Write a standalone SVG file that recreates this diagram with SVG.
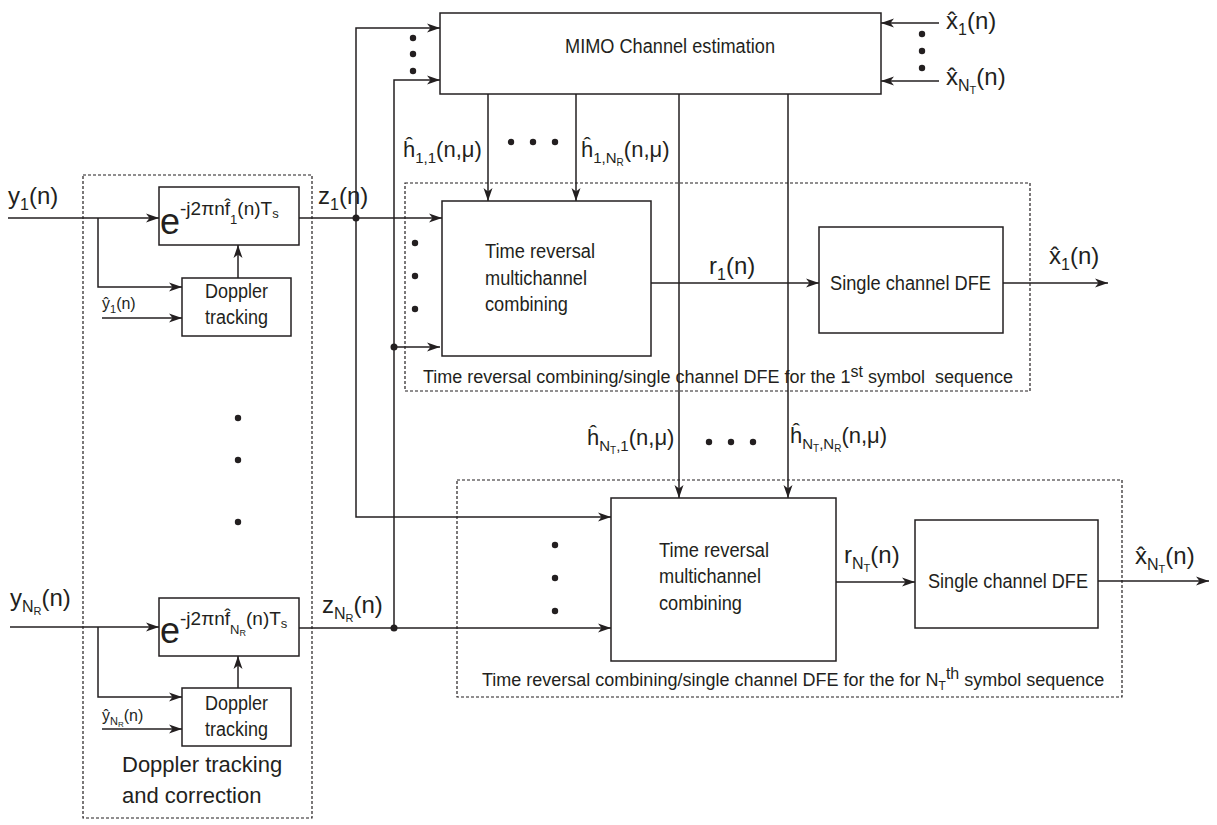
<svg xmlns="http://www.w3.org/2000/svg" width="1217" height="825" viewBox="0 0 1217 825">
<defs>
<marker id="ah" markerUnits="userSpaceOnUse" markerWidth="14" markerHeight="10" refX="13" refY="5" orient="auto">
<path d="M0,0.5 L13,5 L0,9.5 L3.5,5 Z" fill="#231f20"/>
</marker>
<style>
.box{fill:#fff;stroke:#231f20;stroke-width:1.5}
.grp{fill:none;stroke:#231f20;stroke-width:1.2;stroke-dasharray:3 2}
.ln{fill:none;stroke:#231f20;stroke-width:1.5}
.ar{fill:none;stroke:#231f20;stroke-width:1.5;marker-end:url(#ah)}
.dot{fill:#231f20}
text{font-family:"Liberation Sans",Arial,sans-serif;fill:#231f20}
.t18{font-size:18px}
.t20{font-size:20px}
.t22{font-size:22px}
.lab{font-size:24px}
.hl{font-size:22px}
.sm{font-size:16px}
</style>
</defs>
<rect width="1217" height="825" fill="#fff"/>

<g id="groups">
<rect id="doppler-group" class="grp" x="83" y="175" width="229" height="643"/>
<rect id="tr1-group" class="grp" x="405" y="183" width="625" height="208"/>
<rect id="tr2-group" class="grp" x="457" y="480" width="665" height="217"/>
</g>

<g id="connectors">
<path class="ar" d="M8,218 H159"/>
<path class="ar" d="M98,218 V287 H182"/>
<path class="ar" d="M102,318 H182"/>
<path class="ar" d="M238,278 V245"/>
<path class="ar" d="M299,218 H442"/>
<path class="ar" d="M356,218 V28 H440"/>
<path class="ar" d="M356,218 V517 H611"/>
<path class="ar" d="M394,628 V80 H440"/>
<path class="ar" d="M394,347 H440"/>
<path class="ar" d="M10,627 H159"/>
<path class="ar" d="M98,627 V697 H182"/>
<path class="ar" d="M102,729 H182"/>
<path class="ar" d="M238,688 V656"/>
<path class="ar" d="M299,628 H611"/>
<path class="ar" d="M488,94 V201"/>
<path class="ar" d="M576,94 V201"/>
<path class="ar" d="M679,94 V498"/>
<path class="ar" d="M788,94 V498"/>
<path class="ar" d="M651,283 H819"/>
<path class="ar" d="M1003,283 H1108"/>
<path class="ar" d="M836,582 H915"/>
<path class="ar" d="M1098,581 H1209"/>
<path class="ar" d="M939,23 H881"/>
<path class="ar" d="M939,81 H881"/>
<circle class="dot" cx="356" cy="218" r="3.5"/>
<circle class="dot" cx="394" cy="347" r="3.5"/>
<circle class="dot" cx="394" cy="628" r="3.5"/>
</g>

<g id="mimo">
<rect class="box" x="440" y="13" width="441" height="81"/>
<text class="t20" x="565" y="53" textLength="210" lengthAdjust="spacingAndGlyphs">MIMO Channel estimation</text>
</g>

<g id="exp1">
<rect class="box" x="159" y="187" width="140" height="58"/>
<text x="160" y="234"><tspan font-size="36">e</tspan><tspan font-size="19" dy="-19">-j2πnf̂</tspan><tspan font-size="13" dy="9">1</tspan><tspan font-size="19" dy="-9">(n)T</tspan><tspan font-size="13" dy="3">s</tspan></text>
</g>

<g id="doppler1">
<rect class="box" x="182" y="278" width="109" height="58"/>
<text class="t20" x="205" y="298" textLength="63" lengthAdjust="spacingAndGlyphs">Doppler</text>
<text class="t20" x="205" y="324" textLength="63" lengthAdjust="spacingAndGlyphs">tracking</text>
</g>

<g id="exp2">
<rect class="box" x="159" y="598" width="140" height="58"/>
<text x="160" y="643"><tspan font-size="36">e</tspan><tspan font-size="19" dy="-18">-j2πnf̂</tspan><tspan font-size="13" dy="9">N</tspan><tspan font-size="9" dy="2">R</tspan><tspan font-size="19" dy="-11">(n)T</tspan><tspan font-size="13" dy="3">s</tspan></text>
</g>

<g id="doppler2">
<rect class="box" x="182" y="688" width="109" height="58"/>
<text class="t20" x="205" y="710" textLength="63" lengthAdjust="spacingAndGlyphs">Doppler</text>
<text class="t20" x="205" y="736" textLength="63" lengthAdjust="spacingAndGlyphs">tracking</text>
</g>

<g id="tr1">
<rect class="box" x="442" y="201" width="209" height="155"/>
<text class="t20" x="485" y="258" textLength="110" lengthAdjust="spacingAndGlyphs">Time reversal</text>
<text class="t20" x="485" y="285" textLength="102" lengthAdjust="spacingAndGlyphs">multichannel</text>
<text class="t20" x="485" y="311" textLength="83" lengthAdjust="spacingAndGlyphs">combining</text>
</g>

<g id="dfe1">
<rect class="box" x="819" y="227" width="184" height="106"/>
<text class="t20" x="830" y="290" textLength="161" lengthAdjust="spacingAndGlyphs">Single channel DFE</text>
</g>

<g id="tr2">
<rect class="box" x="611" y="498" width="225" height="163"/>
<text class="t20" x="659" y="557" textLength="110" lengthAdjust="spacingAndGlyphs">Time reversal</text>
<text class="t20" x="659" y="583" textLength="102" lengthAdjust="spacingAndGlyphs">multichannel</text>
<text class="t20" x="659" y="610" textLength="83" lengthAdjust="spacingAndGlyphs">combining</text>
</g>

<g id="dfe2">
<rect class="box" x="915" y="520" width="183" height="108"/>
<text class="t20" x="928" y="588" textLength="160" lengthAdjust="spacingAndGlyphs">Single channel DFE</text>
</g>

<g id="labels">
<text class="lab" x="8" y="204">y<tspan font-size="16" dy="6">1</tspan><tspan dy="-6">(n)</tspan></text>
<text class="lab" x="318" y="204">z<tspan font-size="16" dy="6">1</tspan><tspan dy="-6">(n)</tspan></text>
<text class="lab" x="10" y="606">y<tspan font-size="16" dy="6">N</tspan><tspan font-size="11" dy="3">R</tspan><tspan dy="-9">(n)</tspan></text>
<text class="lab" x="322" y="613">z<tspan font-size="16" dy="6">N</tspan><tspan font-size="11" dy="3">R</tspan><tspan dy="-9">(n)</tspan></text>
<text class="sm" x="102" y="309">ŷ<tspan font-size="11" dy="4">1</tspan><tspan dy="-4">(n)</tspan></text>
<text class="sm" x="102" y="721">ŷ<tspan font-size="11" dy="4">N</tspan><tspan font-size="8" dy="2">R</tspan><tspan dy="-6">(n)</tspan></text>
<text class="lab" x="946" y="29">x̂<tspan font-size="16" dy="6">1</tspan><tspan dy="-6">(n)</tspan></text>
<text class="lab" x="946" y="85">x̂<tspan font-size="16" dy="6">N</tspan><tspan font-size="11" dy="3">T</tspan><tspan dy="-9">(n)</tspan></text>
<text class="lab" x="1049" y="264">x̂<tspan font-size="16" dy="6">1</tspan><tspan dy="-6">(n)</tspan></text>
<text class="lab" x="1135" y="564">x̂<tspan font-size="16" dy="6">N</tspan><tspan font-size="11" dy="3">T</tspan><tspan dy="-9">(n)</tspan></text>
<text class="lab" x="709" y="274">r<tspan font-size="16" dy="6">1</tspan><tspan dy="-6">(n)</tspan></text>
<text class="lab" x="844" y="563">r<tspan font-size="16" dy="6">N</tspan><tspan font-size="11" dy="3">T</tspan><tspan dy="-9">(n)</tspan></text>
<text class="hl" x="403" y="157">ĥ<tspan font-size="15" dy="6">1,1</tspan><tspan dy="-6">(n,μ)</tspan></text>
<text class="hl" x="581" y="157">ĥ<tspan font-size="15" dy="6">1,N</tspan><tspan font-size="10" dy="3">R</tspan><tspan dy="-9">(n,μ)</tspan></text>
<text class="hl" x="587" y="445">ĥ<tspan font-size="15" dy="6">N</tspan><tspan font-size="10" dy="3">T</tspan><tspan font-size="15" dy="-3">,1</tspan><tspan dy="-6">(n,μ)</tspan></text>
<text class="hl" x="790" y="443">ĥ<tspan font-size="15" dy="6">N</tspan><tspan font-size="10" dy="3">T</tspan><tspan font-size="15" dy="-3">,N</tspan><tspan font-size="10" dy="3">R</tspan><tspan dy="-9">(n,μ)</tspan></text>
<text class="t22" x="122" y="772">Doppler tracking</text>
<text class="t22" x="122" y="803">and correction</text>
<text class="t18" x="423" y="383">Time reversal combining/single channel DFE for the 1<tspan font-size="16" dy="-6">st</tspan><tspan dy="6" xml:space="preserve"> symbol  sequence</tspan></text>
<text class="t18" x="482" y="686">Time reversal combining/single channel DFE for the for N<tspan font-size="12" dy="4">T</tspan><tspan font-size="16" dy="-11">th</tspan><tspan dy="7"> symbol sequence</tspan></text>
</g>

<g id="ellipses">
<circle class="dot" cx="511" cy="142" r="3.2"/>
<circle class="dot" cx="533" cy="142" r="3.2"/>
<circle class="dot" cx="555" cy="142" r="3.2"/>
<circle class="dot" cx="709" cy="442" r="3.2"/>
<circle class="dot" cx="731" cy="442" r="3.2"/>
<circle class="dot" cx="753" cy="442" r="3.2"/>
<circle class="dot" cx="413" cy="38" r="3.2"/>
<circle class="dot" cx="413" cy="54" r="3.2"/>
<circle class="dot" cx="413" cy="71" r="3.2"/>
<circle class="dot" cx="922" cy="34" r="3.2"/>
<circle class="dot" cx="922" cy="51" r="3.2"/>
<circle class="dot" cx="922" cy="68" r="3.2"/>
<circle class="dot" cx="415" cy="243" r="3.2"/>
<circle class="dot" cx="415" cy="276" r="3.2"/>
<circle class="dot" cx="415" cy="309" r="3.2"/>
<circle class="dot" cx="555" cy="545" r="3.2"/>
<circle class="dot" cx="555" cy="578" r="3.2"/>
<circle class="dot" cx="555" cy="611" r="3.2"/>
<circle class="dot" cx="238" cy="418" r="3.2"/>
<circle class="dot" cx="238" cy="460" r="3.2"/>
<circle class="dot" cx="238" cy="522" r="3.2"/>
</g>
</svg>
